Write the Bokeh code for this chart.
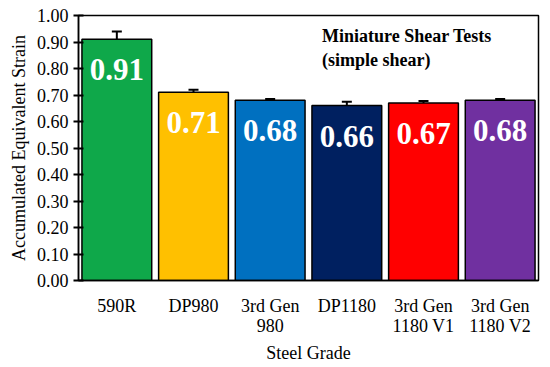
from bokeh.plotting import figure
from bokeh.models import ColumnDataSource, Whisker, Label, FixedTicker, NumeralTickFormatter, Range1d
from bokeh.embed import file_html
from bokeh.resources import INLINE
from bokeh.core.properties import value

grades = ["590R", "DP980", "3rd Gen\n980", "DP1180", "3rd Gen\n1180 V1", "3rd Gen\n1180 V2"]
strain = [0.91, 0.71, 0.68, 0.66, 0.67, 0.68]
err = [0.03, 0.01, 0.005, 0.015, 0.007, 0.005]
colors = ["#0FA84A", "#FFC000", "#0070C0", "#002060", "#FF0000", "#7030A0"]
labels = ["0.91", "0.71", "0.68", "0.66", "0.67", "0.68"]
y_ticks = [0.0, 0.1, 0.2, 0.3, 0.4, 0.5, 0.6, 0.7, 0.8, 0.9, 1.0]

src = ColumnDataSource(dict(
    g=grades, v=strain, c=colors,
    lo=[s - e for s, e in zip(strain, err)],
    hi=[s + e for s, e in zip(strain, err)],
    lab=labels,
    ly=[s - 0.115 for s in strain],
))

FONT = "Liberation Serif"

p = figure(x_range=grades, y_range=Range1d(0, 1.0), width=545, height=365,
           output_backend="svg", toolbar_location=None,
           min_border_left=78, min_border_top=15, min_border_right=7, min_border_bottom=80)
p.vbar(x="g", top="v", width=0.91, fill_color="c", line_color="black", line_width=1.5, source=src)
w = Whisker(base="g", lower="lo", upper="hi", source=src, line_color="black", line_width=2)
w.upper_head.size = 10
w.lower_head.size = 10
w.upper_head.line_width = 2
w.lower_head.line_width = 2
p.add_layout(w)

p.text(x="g", y="ly", text="lab", source=src, text_color="white", text_font=value(FONT),
       text_font_style="bold", text_font_size="31px", text_align="center", text_baseline="middle")

p.add_layout(Label(x=3.176, y=0.921, text="Miniature Shear Tests", text_font=FONT,
                   text_font_style="bold", text_font_size="18px", text_color="black",
                   text_baseline="alphabetic"))
p.add_layout(Label(x=3.176, y=0.831, text="(simple shear)", text_font=FONT,
                   text_font_style="bold", text_font_size="18px", text_color="black",
                   text_baseline="alphabetic"))

p.xgrid.grid_line_color = None
p.ygrid.grid_line_color = None
p.outline_line_color = "black"
p.outline_line_width = 1.5

p.yaxis.ticker = FixedTicker(ticks=y_ticks)
p.yaxis.formatter = NumeralTickFormatter(format="0.00")
p.yaxis.minor_tick_line_color = None
p.yaxis.major_tick_in = 5
p.yaxis.major_tick_out = 5
p.yaxis.major_tick_line_width = 2
p.yaxis.axis_label = "Accumulated Equivalent Strain"

p.xaxis.major_tick_line_color = None
p.xaxis.major_label_standoff = 9
p.xaxis.major_label_text_line_height = 1.0
p.xaxis.axis_label = "Steel Grade"
p.xaxis.axis_label_standoff = 4

for ax in (p.xaxis[0], p.yaxis[0]):
    ax.axis_line_color = "black"
    ax.axis_line_width = 1.5
    ax.major_label_text_font = FONT
    ax.major_label_text_font_size = "18px"
    ax.major_label_text_color = "black"
    ax.axis_label_text_font = FONT
    ax.axis_label_text_font_size = "18px"
    ax.axis_label_text_font_style = "normal"
    ax.axis_label_text_color = "black"

open("out.html", "w").write(file_html(p, INLINE))
